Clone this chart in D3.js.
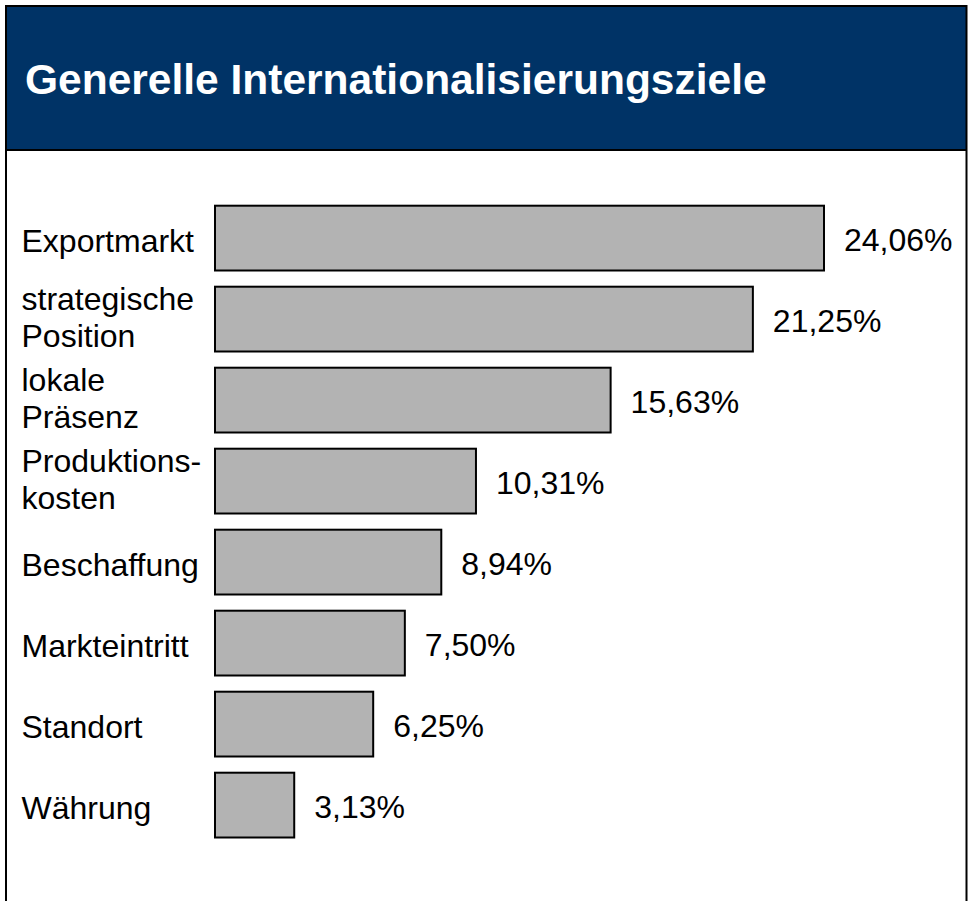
<!DOCTYPE html>
<html>
<head>
<meta charset="utf-8">
<script src="https://cdn.jsdelivr.net/npm/d3@7"></script>
<style>
  html, body { margin: 0; padding: 0; background: #ffffff; }
  svg { display: block; }
  text { font-family: "Liberation Sans", Arial, Helvetica, sans-serif; }
</style>
</head>
<body>
<svg id="chart" width="968" height="901"></svg>
<script>
const title = "Generelle Internationalisierungsziele";
const categories = ["Exportmarkt", "strategische Position", "lokale Präsenz", "Produktions-kosten", "Beschaffung", "Markteintritt", "Standort", "Währung"];
const categoryLines = [["Exportmarkt"], ["strategische", "Position"], ["lokale", "Präsenz"], ["Produktions-", "kosten"], ["Beschaffung"], ["Markteintritt"], ["Standort"], ["Währung"]];
const values = [24.06, 21.25, 15.63, 10.31, 8.94, 7.50, 6.25, 3.13];
const valueLabels = ["24,06%", "21,25%", "15,63%", "10,31%", "8,94%", "7,50%", "6,25%", "3,13%"];

const W = 968, H = 901;
const svg = d3.select("#chart");

// background & frame
svg.append("rect").attr("x", 0).attr("y", 0).attr("width", W).attr("height", H).attr("fill", "#ffffff");
svg.append("rect").attr("x", 6).attr("y", 6).attr("width", 960).attr("height", 144).attr("fill", "#003366");
svg.append("line").attr("x1", 6).attr("x2", 6).attr("y1", 5).attr("y2", H).attr("stroke", "#000").attr("stroke-width", 2);
svg.append("line").attr("x1", 966.5).attr("x2", 966.5).attr("y1", 5).attr("y2", H).attr("stroke", "#000").attr("stroke-width", 2);
svg.append("line").attr("x1", 5).attr("x2", 967).attr("y1", 6).attr("y2", 6).attr("stroke", "#000").attr("stroke-width", 2);
svg.append("line").attr("x1", 5).attr("x2", 967).attr("y1", 150).attr("y2", 150).attr("stroke", "#000").attr("stroke-width", 2);

svg.append("text")
  .attr("x", 25).attr("y", 94)
  .attr("fill", "#ffffff")
  .attr("font-size", 42.5)
  .attr("font-weight", "bold")
  .text(title);

const y = d3.scaleBand().domain(categories).range([205.7, 837.5]).paddingInner(0.2).paddingOuter(0);
const x = d3.scaleLinear().domain([0, d3.max(values)]).range([215, 824]);

const data = categories.map((c, i) => ({ c, lines: categoryLines[i], v: values[i], lab: valueLabels[i] }));

const g = svg.append("g");

g.selectAll("rect.bar").data(data).enter().append("rect")
  .attr("class", "bar")
  .attr("x", x(0))
  .attr("y", d => y(d.c))
  .attr("width", d => x(d.v) - x(0))
  .attr("height", y.bandwidth())
  .attr("fill", "#b3b3b3")
  .attr("stroke", "#000")
  .attr("stroke-width", 2);

g.selectAll("text.val").data(data).enter().append("text")
  .attr("class", "val")
  .attr("x", d => x(d.v) + 20)
  .attr("y", d => y(d.c) + y.bandwidth() / 2 + 13)
  .attr("font-size", 32)
  .attr("fill", "#000")
  .text(d => d.lab);

const cat = g.selectAll("text.cat").data(data).enter().append("text")
  .attr("class", "cat")
  .attr("font-size", 32)
  .attr("fill", "#000");

cat.each(function(d) {
  const t = d3.select(this);
  const cy = y(d.c) + y.bandwidth() / 2;
  if (d.lines.length === 1) {
    t.append("tspan").attr("x", 21.5).attr("y", cy + 13.5).text(d.lines[0]);
  } else {
    t.append("tspan").attr("x", 21.5).attr("y", cy - 9).text(d.lines[0]);
    t.append("tspan").attr("x", 21.5).attr("y", cy + 28).text(d.lines[1]);
  }
});
</script>
</body>
</html>
